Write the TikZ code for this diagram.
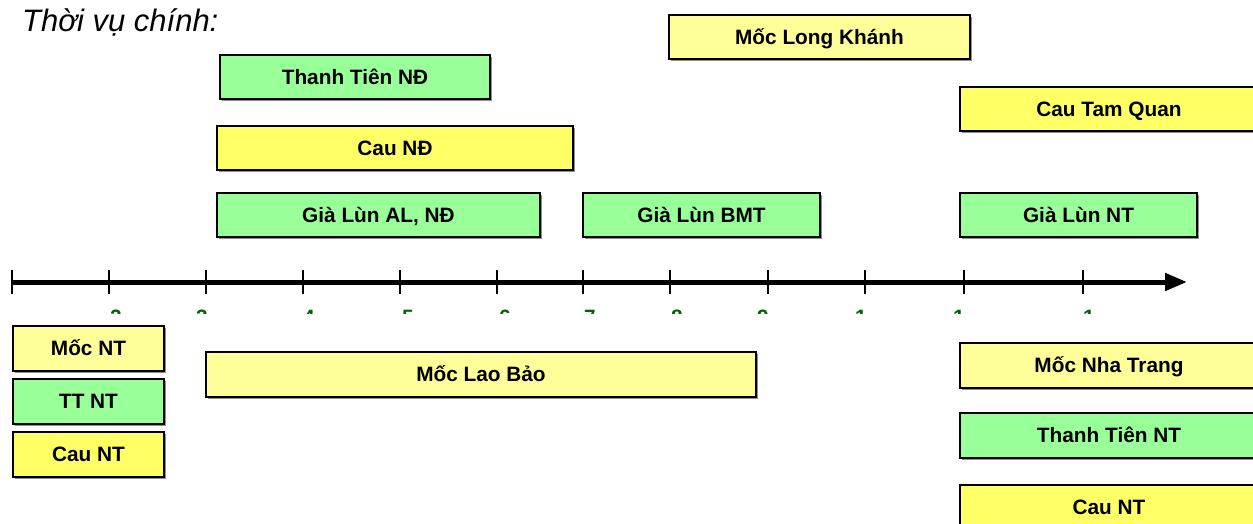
\documentclass[tikz,border=0pt]{standalone}
\usepackage{fontspec}
\setmainfont{Liberation Sans}
\usetikzlibrary{arrows.meta,shadows}

\definecolor{paleyellow}{RGB}{255,255,153}
\definecolor{brightyellow}{RGB}{255,255,102}
\definecolor{palegreen}{RGB}{153,255,153}
\definecolor{monthgreen}{RGB}{0,102,0}

\tikzset{
  bar/.style={draw=black, line width=1.3pt, inner sep=0pt, anchor=center,
    text height=14.7pt, text depth=-1.5pt,
    font=\fontsize{20.8}{24}\selectfont\bfseries,
    drop shadow={shadow xshift=1.6pt, shadow yshift=-1.6pt, fill=black!55, opacity=0.8}},
  mocbar/.style={bar, fill=paleyellow},
  caubar/.style={bar, fill=brightyellow},
  greenbar/.style={bar, fill=palegreen},
  tickmark/.style={line width=1.3pt},
  month/.style={text=monthgreen, font=\fontsize{20.8}{24}\selectfont\bfseries,
    inner sep=0pt, anchor=base}
}

% place a bar from its corners (x1,y1)-(x2,y2), in pixel units
\newcommand{\barnode}[7]{%
  \pgfmathsetmacro{\bw}{#4-#2}%
  \pgfmathsetmacro{\bh}{#5-#3}%
  \node[#6, minimum width=\bw pt, minimum height=\bh pt] (#1)
    at ({(#2+#4)/2},{(#3+#5)/2}) {#7};}

\begin{document}
\begin{tikzpicture}[x=1pt,y=-1pt]
\clip (0,0) rectangle (1253,524);
\useasboundingbox (0,0) rectangle (1253,524);

% title
\node[anchor=base west, inner sep=0pt,
  font=\fontsize{31}{36}\selectfont\itshape] (title) at (22,31.5) {Thời vụ chính:};

% bars above the time axis
\barnode{tten}{220}{55}{490}{99}{greenbar}{Thanh Tiên NĐ}
\barnode{caund}{217}{126}{573}{170}{caubar}{Cau NĐ}
\barnode{glal}{217}{193}{540}{237}{greenbar}{Già Lùn AL, NĐ}
\barnode{glbmt}{583}{193}{820}{237}{greenbar}{Già Lùn BMT}
\barnode{mlk}{669}{15}{970}{59}{mocbar}{Mốc Long Khánh}
\barnode{ctq}{960}{87}{1258}{131}{caubar}{Cau Tam Quan}
\barnode{glnt}{960}{193}{1197}{237}{greenbar}{Già Lùn NT}

% bars below the time axis
\barnode{mnt}{13}{326}{164}{371}{mocbar}{Mốc NT}
\barnode{ttnt}{13}{379}{164}{424}{greenbar}{TT NT}
\barnode{cnt}{13}{432}{164}{477}{caubar}{Cau NT}
\barnode{mlb}{206}{352}{756}{397}{mocbar}{Mốc Lao Bảo}
\barnode{mntr}{960}{343}{1258}{388}{mocbar}{Mốc Nha Trang}
\barnode{ttnt2}{960}{413}{1258}{458}{greenbar}{Thanh Tiên NT}
\barnode{cnt2}{960}{485}{1258}{530}{caubar}{Cau NT}

% time axis
\coordinate (axL) at (12,282);
\coordinate (axR) at (1187,282);
\draw[line width=5pt, -{Triangle[length=22pt,width=17pt]}] (axL) -- (axR);
\foreach \tx in {12,109,206,303,400,497,583,670,768,865,964,1083}
  \draw[tickmark] (\tx,270) -- (\tx,294);

% month labels, cut off just below the axis
\begin{scope}
  \clip (0,300) rectangle (1253,313.5);
  \foreach \mx/\ml in {116/2,202/3,309/4,408/5,505/6,590/7,677/8,763/9,861/1,959/1,1089/1}
    \node[month] at (\mx,324.5) {\ml};
\end{scope}
\end{tikzpicture}
\end{document}
